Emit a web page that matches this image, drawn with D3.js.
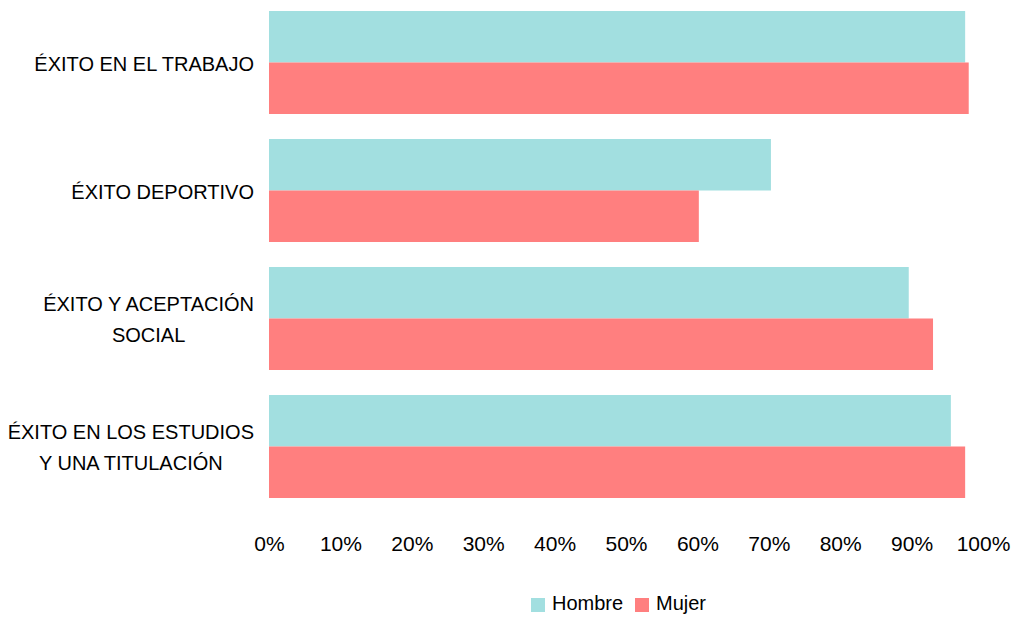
<!DOCTYPE html>
<html><head><meta charset="utf-8">
<script src="https://cdn.jsdelivr.net/npm/d3@7"></script>
<style>
body{margin:0;background:#fff;}
text{font-family:"Liberation Sans",Arial,sans-serif;fill:#000;}
</style></head>
<body>
<svg id="c" width="1018" height="617"></svg>
<script>
const categories = [
  ["ÉXITO EN EL TRABAJO"],
  ["ÉXITO DEPORTIVO"],
  ["ÉXITO Y ACEPTACIÓN", "SOCIAL"],
  ["ÉXITO EN LOS ESTUDIOS", "Y UNA TITULACIÓN"]
];
const seriesNames = ["Hombre", "Mujer"];
const hombre = [0.975, 0.703, 0.896, 0.955];
const mujer  = [0.980, 0.602, 0.930, 0.975];
const tickValues = [0,0.1,0.2,0.3,0.4,0.5,0.6,0.7,0.8,0.9,1.0];
const colors = ["#A2DFE0", "#FF7F7F"];

const svg = d3.select("#c");
const x = d3.scaleLinear().domain([0,1]).range([269, 983]);
const pin = 25/128;
const y = d3.scaleBand().domain(d3.range(categories.length))
  .range([-1.5, 510.5]).paddingInner(pin).paddingOuter(pin/2);
const ys = d3.scaleBand().domain(seriesNames).range([0, y.bandwidth()]);

const data = [hombre, mujer];
seriesNames.forEach((s, si) => {
  svg.append("g").selectAll("rect").data(data[si]).join("rect")
    .attr("x", x(0))
    .attr("y", (d,i) => y(i) + ys(s))
    .attr("width", d => x(d) - x(0))
    .attr("height", ys.bandwidth())
    .attr("fill", colors[si]);
});

// category labels
const cat = svg.append("g");
categories.forEach((lines, i) => {
  const cy = y(i) + y.bandwidth()/2;
  const lh = 31;
  const t = cat.append("text")
    .attr("text-anchor", "middle")
    .attr("font-size", 20);
  const n = lines.length;
  lines.forEach((ln, k) => {
    t.append("tspan").attr("x", 0)
      .attr("y", cy + (k - (n-1)/2)*lh + 8)
      .text(ln);
  });
  const w = t.node().getBBox().width;
  t.attr("transform", `translate(${254 - w/2},0)`);
});

// x axis (labels only)
const xAxis = d3.axisBottom(x).tickValues(tickValues).tickFormat(d3.format(".0%")).tickSize(0).tickPadding(0);
const ax = svg.append("g").attr("transform", "translate(0,0)").call(xAxis);
ax.select(".domain").remove();
ax.selectAll("text").attr("font-size", 21).attr("font-family", "Liberation Sans, Arial, sans-serif")
  .attr("fill","#000").attr("dy", null).attr("y", 551);

// legend
const lg = svg.append("g");
const leg = [{n:"Hombre", x:531}, {n:"Mujer", x:635}];
leg.forEach((l, i) => {
  lg.append("rect").attr("x", l.x).attr("y", 598).attr("width", 14).attr("height", 14).attr("fill", colors[i]);
  lg.append("text").attr("x", l.x + 21).attr("y", 610)
    .attr("font-size", 20).text(l.n);
});
</script>
</body></html>
